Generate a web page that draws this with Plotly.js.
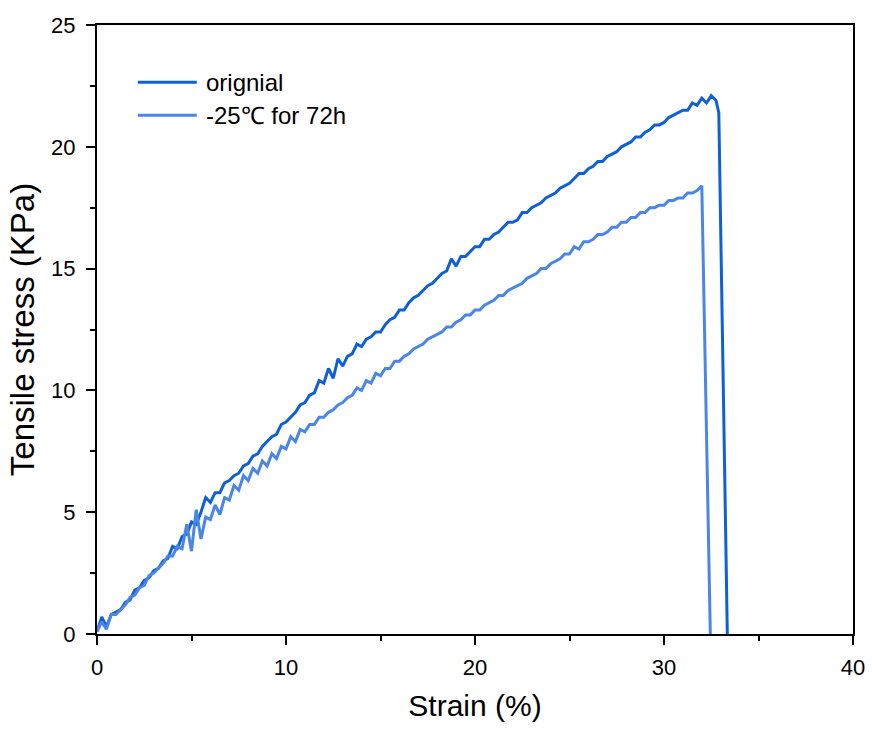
<!DOCTYPE html>
<html><head><meta charset="utf-8">
<script src="https://cdn.plot.ly/plotly-3.0.1.min.js"></script>
<style>body{margin:0;background:#fff}#c{width:872px;height:731px}</style>
</head><body><div id="c"></div>
<script>
const origX = [0,0.25,0.5,0.75,1,1.25,1.5,1.75,2,2.25,2.5,2.75,3,3.25,3.5,3.75,4,4.25,4.5,4.75,5,5.25,5.5,5.75,6,6.25,6.5,6.75,7,7.25,7.5,7.75,8,8.25,8.5,8.75,9,9.25,9.5,9.75,10,10.25,10.5,10.75,11,11.25,11.5,11.75,12,12.25,12.5,12.75,13,13.25,13.5,13.75,14,14.25,14.5,14.75,15,15.25,15.5,15.75,16,16.25,16.5,16.75,17,17.25,17.5,17.75,18,18.25,18.5,18.75,19,19.25,19.5,19.75,20,20.25,20.5,20.75,21,21.25,21.5,21.75,22,22.25,22.5,22.75,23,23.25,23.5,23.75,24,24.25,24.5,24.75,25,25.25,25.5,25.75,26,26.25,26.5,26.75,27,27.25,27.5,27.75,28,28.25,28.5,28.75,29,29.25,29.5,29.75,30,30.25,30.5,30.75,31,31.25,31.5,31.75,32,32.25,32.5,32.75,32.9,33.35];
const origY = [0.1,0.7,0.3,0.8,0.9,1.0,1.3,1.4,1.8,1.9,2.2,2.3,2.6,2.7,3.0,3.1,3.6,3.5,4.0,4.1,4.6,4.5,5.0,5.6,5.4,5.8,5.8,6.2,6.3,6.5,6.6,6.9,7.0,7.3,7.4,7.7,7.9,8.1,8.2,8.6,8.7,8.9,9.1,9.4,9.5,9.8,9.9,10.4,10.3,10.9,10.5,11.3,11.0,11.4,11.5,11.9,11.8,12.1,12.2,12.4,12.4,12.7,12.9,13.0,13.3,13.3,13.6,13.8,13.9,14.1,14.3,14.4,14.6,14.8,14.9,15.4,15.1,15.5,15.5,15.7,15.9,15.9,16.2,16.2,16.4,16.5,16.7,16.9,16.9,17.0,17.3,17.3,17.5,17.6,17.7,17.9,18.0,18.1,18.3,18.4,18.5,18.7,18.9,18.9,19.1,19.2,19.4,19.4,19.6,19.7,19.8,20.0,20.1,20.2,20.4,20.4,20.6,20.7,20.9,20.9,21.0,21.2,21.3,21.4,21.5,21.5,21.8,21.7,22.0,21.8,22.1,21.9,21.4,0];
const coldX = [0,0.25,0.5,0.75,1,1.25,1.5,1.75,2,2.25,2.5,2.75,3,3.25,3.5,3.75,4,4.25,4.5,4.75,5,5.25,5.5,5.75,6,6.25,6.5,6.75,7,7.25,7.5,7.75,8,8.25,8.5,8.75,9,9.25,9.5,9.75,10,10.25,10.5,10.75,11,11.25,11.5,11.75,12,12.25,12.5,12.75,13,13.25,13.5,13.75,14,14.25,14.5,14.75,15,15.25,15.5,15.75,16,16.25,16.5,16.75,17,17.25,17.5,17.75,18,18.25,18.5,18.75,19,19.25,19.5,19.75,20,20.25,20.5,20.75,21,21.25,21.5,21.75,22,22.25,22.5,22.75,23,23.25,23.5,23.75,24,24.25,24.5,24.75,25,25.25,25.5,25.75,26,26.25,26.5,26.75,27,27.25,27.5,27.75,28,28.25,28.5,28.75,29,29.25,29.5,29.75,30,30.25,30.5,30.75,31,31.25,31.5,31.75,32,32.45];
const coldY = [0.1,0.5,0.2,0.8,0.8,1.0,1.2,1.5,1.6,1.9,2.0,2.4,2.5,2.7,2.9,3.2,3.2,3.6,3.5,4.5,3.4,5.1,3.9,4.8,4.7,5.3,4.9,5.6,5.5,6.1,5.9,6.5,6.3,6.8,6.6,7.1,6.9,7.4,7.2,7.7,7.6,8.1,7.9,8.4,8.3,8.6,8.6,8.9,8.9,9.1,9.2,9.4,9.5,9.7,9.8,10.1,10.0,10.4,10.3,10.7,10.6,10.9,10.9,11.2,11.2,11.4,11.5,11.7,11.8,11.9,12.1,12.2,12.3,12.4,12.6,12.6,12.8,12.9,13.1,13.1,13.3,13.3,13.5,13.6,13.7,13.9,13.9,14.1,14.2,14.3,14.4,14.6,14.7,14.8,15.0,15.0,15.2,15.3,15.4,15.6,15.6,15.9,15.8,16.1,16.1,16.2,16.4,16.4,16.5,16.7,16.7,16.9,16.9,17.1,17.1,17.3,17.3,17.5,17.5,17.6,17.6,17.8,17.8,17.9,17.9,18.1,18.1,18.2,18.4,0];
const seriesNames = ['orignial', '-25\u2103 for 72h'];
const colors = ['#0f60d8', '#4a86e8'];

const FONT = 'Liberation Sans, Arial, sans-serif';
const axisCommon = {
  showline: true, linecolor: '#000', linewidth: 2, mirror: true,
  ticks: 'outside', ticklen: 9, tickwidth: 2, tickcolor: '#000',
  showgrid: false, zeroline: false,
  tickfont: {family: FONT, size: 22, color: '#000'},
};
const data = [
  {x: origX, y: origY, name: seriesNames[0], type: 'scatter', mode: 'lines',
   line: {color: colors[0], width: 3}, showlegend: false},
  {x: coldX, y: coldY, name: seriesNames[1], type: 'scatter', mode: 'lines',
   line: {color: colors[1], width: 3}, showlegend: false}
];
// legend drawn in paper coordinates
const legY = [0.906, 0.852];
const shapes = legY.map((yy, i) => ({type: 'line', xref: 'paper', yref: 'paper',
  x0: 0.054, x1: 0.132, y0: yy, y1: yy, line: {color: colors[i], width: 3}}));
const annotations = legY.map((yy, i) => ({xref: 'paper', yref: 'paper', x: 0.141, y: yy,
  xanchor: 'left', yanchor: 'middle', showarrow: false, text: seriesNames[i],
  font: {family: FONT, size: 24, color: '#000'}}));

const layout = {
  width: 872, height: 731,
  margin: {l: 97, r: 19, t: 25, b: 97},
  paper_bgcolor: '#fff', plot_bgcolor: '#fff',
  font: {family: FONT, color: '#000'},
  showlegend: false,
  shapes: shapes, annotations: annotations,
  xaxis: Object.assign({}, axisCommon, {
    range: [0, 40], tickvals: [0,10,20,30,40], ticklabelstandoff: 4,
    minor: {tickvals: [5,15,25,35], ticks: 'outside', ticklen: 5, tickwidth: 2, tickcolor: '#000'},
    title: {text: 'Strain (%)', font: {family: FONT, size: 30, color: '#000'}, standoff: 16}
  }),
  yaxis: Object.assign({}, axisCommon, {
    range: [0, 25], tickvals: [0,5,10,15,20,25], ticklabelstandoff: 6,
    minor: {tickvals: [2.5,7.5,12.5,17.5,22.5], ticks: 'outside', ticklen: 5, tickwidth: 2, tickcolor: '#000'},
    title: {text: 'Tensile stress (KPa)', font: {family: FONT, size: 33, color: '#000'}, standoff: 7}
  })
};
Plotly.newPlot('c', data, layout, {displayModeBar: false, staticPlot: true});
</script></body></html>
